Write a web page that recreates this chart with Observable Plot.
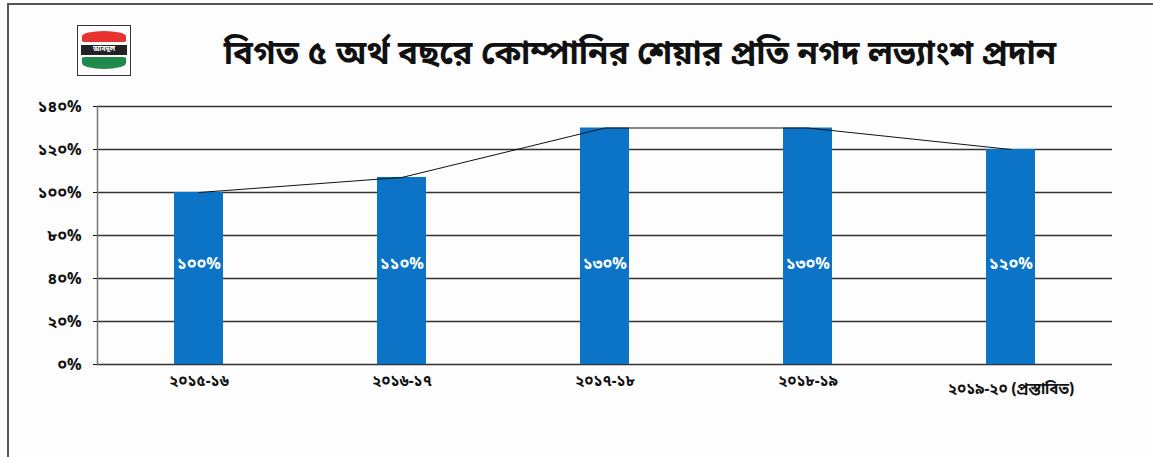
<!DOCTYPE html>
<html><head><meta charset="utf-8">
<script src="https://cdn.jsdelivr.net/npm/d3@7"></script>
<script src="https://cdn.jsdelivr.net/npm/@observablehq/plot@0.6"></script>
<style>
body{margin:0;background:#fdfdfd;width:1153px;height:457px;overflow:hidden;font-family:"Noto Sans Bengali","Noto Sans",sans-serif;}
#frame{position:absolute;left:7px;top:3px;width:1160px;height:470px;border-left:2px solid #555;border-top:2px solid #555;}
#logo{position:absolute;left:77px;top:25px;width:52px;height:49px;border:1.5px solid #333;background:#fff;overflow:hidden;}
#logo .r{position:absolute;left:4px;top:5px;width:44px;height:11px;background:#e8322f;border-radius:50% 50% 10% 10%;}
#logo .k{position:absolute;left:3px;top:19px;width:46px;height:10px;background:#222;color:#fff;font-size:7px;line-height:10px;text-align:center;font-weight:bold;}
#logo .g{position:absolute;left:4px;top:31px;width:44px;height:12px;background:#1f8a4c;border-radius:10% 10% 50% 50%;}
#title{position:absolute;left:180px;width:920px;top:34px;text-align:center;font-size:33px;font-weight:bold;color:#111;white-space:nowrap;}
#chart{position:absolute;left:0;top:90px;}
</style></head>
<body>
<div id="frame"></div>
<div id="logo"><div class="r"></div><div class="k">আবদুল</div><div class="g"></div></div>
<div id="title">বিগত ৫ অর্থ বছরে কোম্পানির শেয়ার প্রতি নগদ লভ্যাংশ প্রদান</div>
<div id="chart"></div>
<script>
const categories = ["২০১৫-১৬", "২০১৬-১৭", "২০১৭-১৮", "২০১৮-১৯", "২০১৯-২০ (প্রস্তাবিত)"];
const values = [100, 107, 130, 130, 120];
const valueLabels = ["১০০%", "১১০%", "১৩০%", "১৩০%", "১২০%"];
const yTicks = [20, 40, 60, 80, 100, 120, 140];
const yTickLabels = ["০%", "২০%", "৪০%", "৮০%", "১০০%", "১২০%", "১৪০%"];

const data = categories.map((c, i) => ({cat: c, value: values[i], label: valueLabels[i]}));
const base = yTicks[0];
const font = '"Noto Sans Bengali","Noto Sans",sans-serif';

const chart = Plot.plot({
  width: 1153,
  height: 320,
  marginLeft: 97,
  marginRight: 41,
  marginTop: 16,
  marginBottom: 46,
  style: {fontFamily: font, fontSize: "16px", fontWeight: "bold", color: "#111", background: "transparent"},
  x: {domain: categories, paddingInner: 0.76, paddingOuter: 0.38, align: 0.5, label: null},
  y: {domain: [yTicks[0], yTicks[yTicks.length - 1]], label: null},
  marks: [
    Plot.ruleY(yTicks, {stroke: "#333", strokeWidth: 1.5}),
    Plot.frame({anchor: "left", stroke: "#777", strokeWidth: 1.5}),
    Plot.axisY(yTicks, {tickFormat: (d) => yTickLabels[yTicks.indexOf(d)], tickSize: 4, tickPadding: 12, fontSize: 16, fontWeight: "bold", label: null}),
    Plot.axisX(categories.slice(0, 4), {tickSize: 0, tickPadding: 11, fontSize: 15, fontWeight: "bold", label: null}),
    Plot.axisX(categories.slice(4), {tickSize: 0, tickPadding: 19, fontSize: 15, fontWeight: "bold", label: null}),
    Plot.barY(data, {x: "cat", y1: base, y2: "value", fill: "#0b74c6"}),
    Plot.line(data, {x: "cat", y: "value", stroke: "#111", strokeWidth: 1}),
    Plot.text(data, {x: "cat", y: 67, text: "label", fill: "#fff", fontSize: 16, fontWeight: "bold"})
  ]
});
document.getElementById("chart").appendChild(chart);
</script>
</body></html>
